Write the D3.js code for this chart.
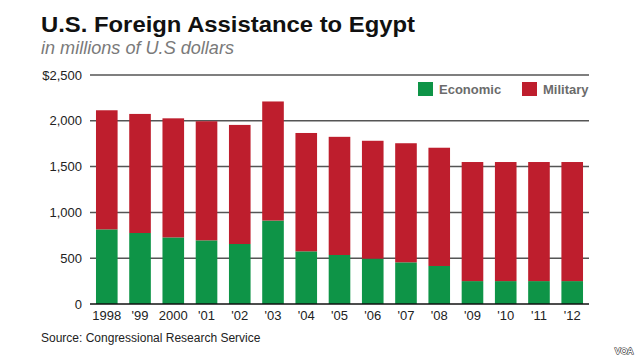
<!DOCTYPE html>
<html><head><meta charset="utf-8">
<script src="https://cdn.jsdelivr.net/npm/d3@7"></script>
<style>
html,body{margin:0;padding:0;background:#fff;}
svg{display:block;font-family:"Liberation Sans",Arial,sans-serif;}
</style></head>
<body>
<svg id="c" width="640" height="360"></svg>
<script>
const years = ["1998","'99","2000","'01","'02","'03","'04","'05","'06","'07","'08","'09","'10","'11","'12"];
const economic = [815,775,727,695,655,911,575,535,495,455,415,250,250,250,250];
const military = [1300,1300,1300,1300,1300,1300,1292,1290,1287,1300,1291,1300,1300,1300,1300];
const yTicks = [0,500,1000,1500,2000,2500];
const seriesNames = ["Economic","Military"];
const colors = {Economic:"#0e9447", Military:"#be1e2d"};

(function(){
const svg = d3.select("#c");
const W=640,H=360;
const pL=90,pR=589,pT=75,pB=304;

svg.append("rect").attr("width",W).attr("height",H).attr("fill","#fff");

svg.append("text").attr("x",41).attr("y",32).attr("font-size",22.5).attr("font-weight","bold")
  .attr("fill","#111").attr("textLength",374).attr("lengthAdjust","spacingAndGlyphs")
  .text("U.S. Foreign Assistance to Egypt");
svg.append("text").attr("x",41).attr("y",54).attr("font-size",17.5).attr("font-style","italic")
  .attr("fill","#7a7a7a").attr("textLength",193).attr("lengthAdjust","spacingAndGlyphs")
  .text("in millions of U.S dollars");

const x = d3.scaleBand().domain(years).range([pL,pR]).paddingInner(0.35).paddingOuter(0.18);
const y = d3.scaleLinear().domain([0,2500]).range([pB,pT]);

const grid = svg.append("g");
grid.selectAll("line").data(yTicks.filter(d=>d>0)).join("line")
  .attr("x1",pL).attr("x2",pR).attr("y1",d=>y(d)).attr("y2",d=>y(d))
  .attr("stroke","#555").attr("stroke-width",1.5);

const yAxis = d3.axisLeft(y).tickValues(yTicks).tickSize(0).tickPadding(0)
  .tickFormat(d=> d===2500 ? "$2,500" : d3.format(",")(d));
const ya = svg.append("g").attr("transform",`translate(${pL-8},0)`).call(yAxis);
ya.select(".domain").remove();
ya.selectAll("text").attr("font-size",13).attr("fill","#222").attr("font-family","Liberation Sans, Arial, sans-serif");

const rows = years.map((yr,i)=>({year:yr, Economic:economic[i], Military:military[i]}));
const stack = d3.stack().keys(seriesNames)(rows);
svg.append("g").selectAll("g").data(stack).join("g")
  .attr("fill",d=>colors[d.key])
  .selectAll("rect").data(d=>d).join("rect")
  .attr("x",d=>x(d.data.year)).attr("width",x.bandwidth())
  .attr("y",d=>y(d[1])).attr("height",d=>y(d[0])-y(d[1]));

svg.append("line").attr("x1",pL).attr("x2",pR).attr("y1",y(0)).attr("y2",y(0))
  .attr("stroke","#111").attr("stroke-width",1.5);

const xAxis = d3.axisBottom(x).tickSize(0).tickPadding(0);
const xa = svg.append("g").attr("transform",`translate(0,${pB+4})`).call(xAxis);
xa.select(".domain").remove();
xa.selectAll("text").attr("font-size",13).attr("fill","#222").attr("dy","0.95em")
  .attr("font-family","Liberation Sans, Arial, sans-serif");

const legend = [{name:"Economic",sx:418,tx:439},{name:"Military",sx:522,tx:543}];
const lg = svg.append("g");
lg.selectAll("rect").data(legend).join("rect")
  .attr("x",d=>d.sx).attr("y",82).attr("width",15).attr("height",14).attr("fill",d=>colors[d.name]);
lg.selectAll("text").data(legend).join("text")
  .attr("x",d=>d.tx).attr("y",94).attr("font-size",13).attr("font-weight","bold")
  .attr("fill","#6b6b6b").text(d=>d.name);

svg.append("text").attr("x",41).attr("y",342).attr("font-size",12).attr("fill","#222")
  .text("Source: Congressional Research Service");

svg.append("text").attr("x",624).attr("y",354).attr("text-anchor","middle")
  .attr("font-size",9).attr("font-weight","bold").attr("fill","#fff")
  .attr("stroke","#333").attr("stroke-width",1.1).attr("paint-order","stroke")
  .attr("letter-spacing","-0.3").text("VOA");
})();
</script>
</body></html>
